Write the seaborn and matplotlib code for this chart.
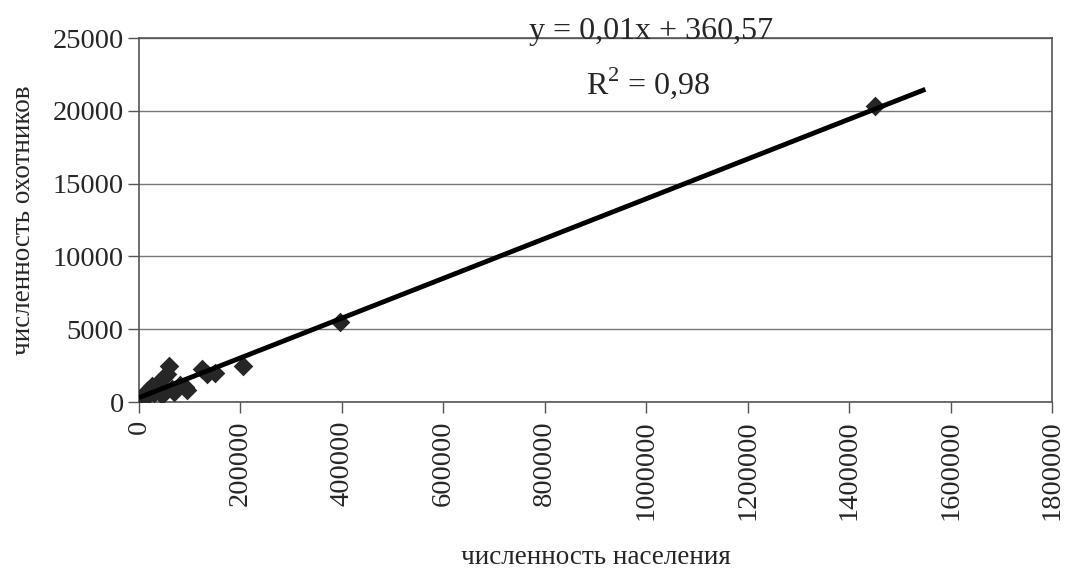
import numpy as np
import pandas as pd
import matplotlib as mpl
import matplotlib.pyplot as plt
import seaborn as sns

# население / охотники
population = [3000, 8000, 12000, 18000, 25000, 30000, 38000, 45000, 50000, 55000,
              60000, 65000, 70000, 80000, 90000, 95000, 125000, 135000, 150000,
              205000, 396000, 1450000]
hunters = [150, 400, 300, 800, 1100, 600, 1300, 500, 1700, 1900,
           2500, 900, 700, 1200, 1000, 800, 2300, 1900, 2000,
           2500, 5500, 20300]
trend_range = [0, 1550000]
eq_text = "y = 0,01x + 360,57"
r2_text = "R$^2$ = 0,98"

sns.set_style("white")
plt.rcParams["font.family"] = ["Liberation Serif", "DejaVu Serif"]
plt.rcParams["mathtext.fontset"] = "custom"
plt.rcParams["mathtext.rm"] = "Liberation Serif"

data = pd.DataFrame({"pop": population, "hunt": hunters})

fig = plt.figure(figsize=(10.65, 5.7), dpi=100)
ax = fig.add_axes([0.1305, 0.2947, 0.8575, 0.6386])

ax.grid(axis="y", color="#777777", lw=1)
ax.set_axisbelow(True)

sns.scatterplot(data=data, x="pop", y="hunt", ax=ax, marker="D", s=100,
                color="#262626", edgecolor="#262626", linewidth=0, zorder=3)

k, b = np.polyfit(data["pop"], data["hunt"], 1)
tx = np.array(trend_range)
ax.plot(tx, k * tx + b, color="black", lw=3.5, zorder=4, solid_capstyle="butt")

ax.set_xlim(0, 1800000)
ax.set_ylim(0, 25000)
ax.set_xticks(np.arange(0, 1800001, 200000))
ax.set_yticks(np.arange(0, 25001, 5000))
ax.ticklabel_format(style="plain")
ax.tick_params(axis="x", labelrotation=90, labelsize=20.5, direction="out",
               length=8, width=1, color="#555555", pad=5)
ax.tick_params(axis="y", labelsize=20.5, direction="out", length=8, width=1,
               color="#555555", pad=3)
ax.yaxis.set_ticks_position("left")
ax.xaxis.set_ticks_position("bottom")

for side in ["left", "bottom", "right", "top"]:
    ax.spines[side].set_visible(True)
    ax.spines[side].set_color("#555555")
    ax.spines[side].set_linewidth(1.2)

ax.set_xlabel("численность населения", fontsize=19.5, labelpad=18)
ax.set_ylabel("численность охотников", fontsize=19.5, labelpad=12)

ax.text(0.561, 0.998, eq_text, transform=ax.transAxes, fontsize=23,
        ha="center", va="baseline")
ax.text(0.558, 0.846, r2_text, transform=ax.transAxes, fontsize=23,
        ha="center", va="baseline")

fig.savefig("out.png", dpi=100)
